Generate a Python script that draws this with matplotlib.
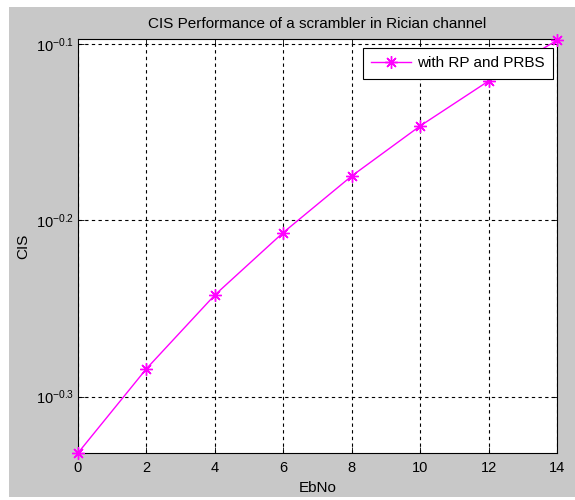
import numpy as np
import matplotlib.pyplot as plt
from matplotlib.patches import Rectangle
from matplotlib.ticker import FixedLocator, NullLocator

plt.rcParams['font.family'] = ['Liberation Sans', 'DejaVu Sans']
plt.rcParams['mathtext.fontset'] = 'custom'
plt.rcParams['mathtext.rm'] = 'Liberation Sans'
plt.rcParams['mathtext.it'] = 'Liberation Sans'

# data
ebno = [0, 2, 4, 6, 8, 10, 12, 14]
cis = [0.4656, 0.5198, 0.5724, 0.6211, 0.6687, 0.7139, 0.7571, 0.7985]
xticks = [0, 2, 4, 6, 8, 10, 12, 14]
yticks = [10 ** -0.3, 10 ** -0.2, 10 ** -0.1]
ylabels = ['$10^{-0.3}$', '$10^{-0.2}$', '$10^{-0.1}$']

fig = plt.figure(figsize=(5.75, 5.0), dpi=100, facecolor='white')
# gray figure background with a thin white margin (left / top / bottom)
fig.patches.append(Rectangle((9 / 575, 3 / 500), 1, 490 / 500, transform=fig.transFigure,
                             facecolor='#c8c8c8', edgecolor='none', zorder=-10))

ax = fig.add_axes([78 / 575, 1 - 453 / 500, 479 / 575, 414 / 500])
ax.set_facecolor('white')
# matlab style '*' marker: 8 spokes
ax.plot(ebno, cis, color='#ff00ff', marker=(8, 2, 0), markersize=9, markeredgewidth=1,
        linewidth=1, label='with RP and PRBS', clip_on=False, zorder=3)

ax.set_yscale('log')
ax.set_xlim(0, 14)
ax.set_ylim(10 ** -0.332, 10 ** -0.097)
ax.xaxis.set_major_locator(FixedLocator(xticks))
ax.yaxis.set_major_locator(FixedLocator(yticks))
ax.yaxis.set_minor_locator(NullLocator())
ax.set_yticklabels(ylabels)
ax.tick_params(direction='in', top=True, right=True, labelsize=10.5, length=4, width=0.6)
ax.tick_params(axis='x', pad=6)
ax.tick_params(axis='y', pad=3)
ax.grid(True, color='black', linestyle=(0, (3, 3)), linewidth=0.8)
for s in ax.spines.values():
    s.set_linewidth(0.8)

ax.set_title('CIS Performance of a scrambler in Rician channel', fontsize=11, pad=8)
ax.set_xlabel('EbNo', fontsize=11, labelpad=4)
ax.set_ylabel('CIS', fontsize=11, labelpad=4)

leg = ax.legend(loc='upper right', bbox_to_anchor=(1.0075, 0.997), fontsize=11,
                fancybox=False, framealpha=1, edgecolor='black',
                handlelength=2.6, handletextpad=0.4, borderpad=0.55)
leg.get_frame().set_linewidth(0.8)

fig.savefig('out.png', dpi=100, facecolor=fig.get_facecolor())
